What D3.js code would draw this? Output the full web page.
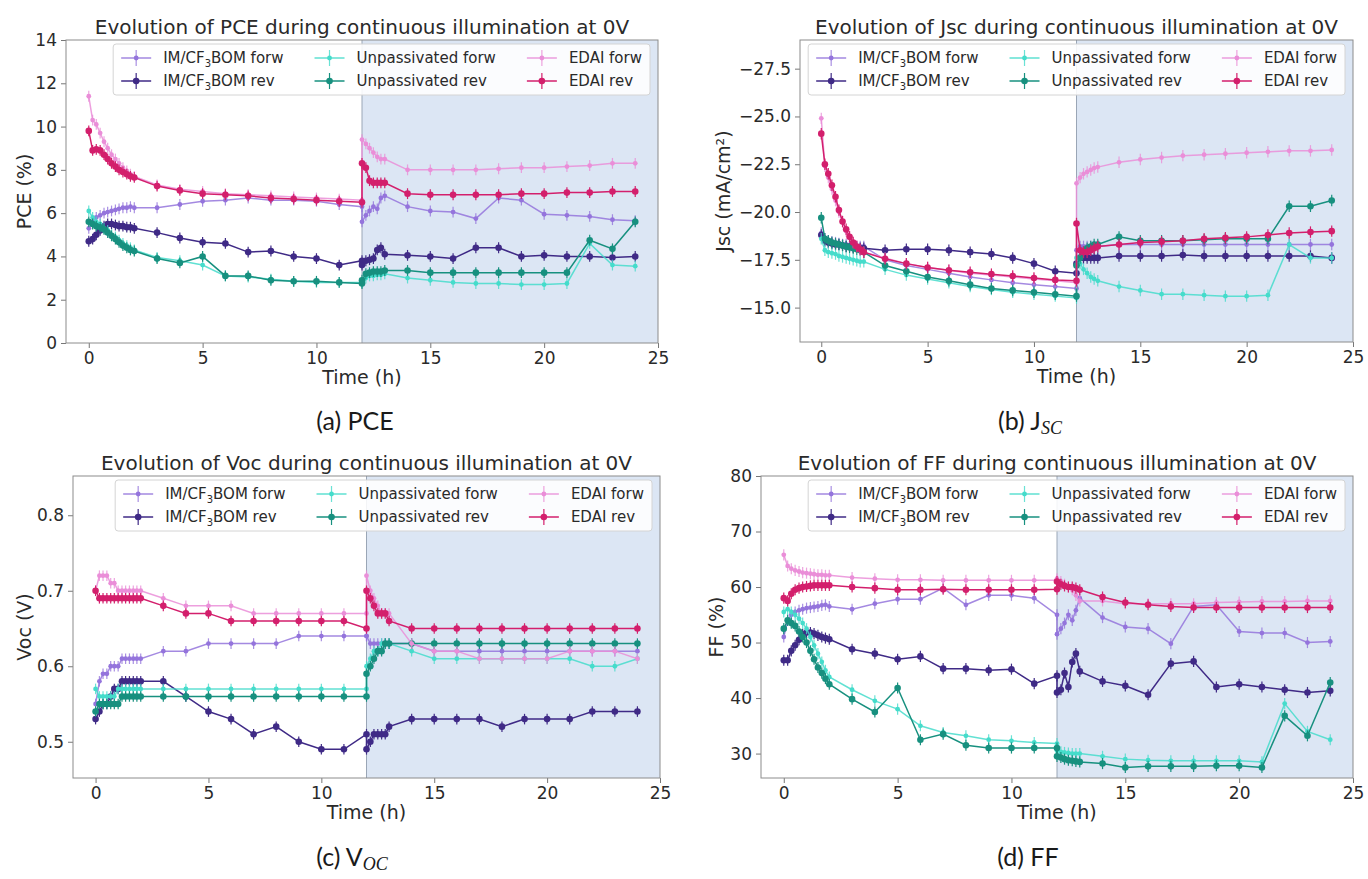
<!DOCTYPE html>
<html>
<head>
<meta charset="utf-8">
<script src="https://cdn.jsdelivr.net/npm/d3@7"></script>
<style>
  body { margin: 0; background: #fff; }
  text { font-family: "DejaVu Sans", sans-serif; }
</style>
</head>
<body>
<script>
// time points (h): dense sampling 0-2 h and 12-13 h, hourly otherwise
var timeH = [0, 0.17, 0.33, 0.5, 0.67, 0.83, 1, 1.17, 1.33, 1.5, 1.67, 1.83, 2,
  3, 4, 5, 6, 7, 8, 9, 10, 11, 12,
  12, 12.17, 12.33, 12.5, 12.67, 12.83, 13,
  14, 15, 16, 17, 18, 19, 20, 21, 22, 23, 24];
var timeTicks = [0, 5, 10, 15, 20, 25];

var seriesNames = ["IM/CF3BOM forw", "IM/CF3BOM rev", "Unpassivated forw", "Unpassivated rev", "EDAI forw", "EDAI rev"];
var seriesColors = ["#9474dc", "#3f2a86", "#45dccb", "#17907f", "#ea8ed8", "#d31f6c"];

// PCE (%)
var pceImForw = [5.3,5.6,5.8,5.9,6.0,6.05,6.1,6.15,6.2,6.25,6.25,6.3,6.25, 6.25,6.4,6.55,6.6,6.7,6.6,6.6,6.55,6.4,6.3, 5.6,5.9,6.1,6.3,6.2,6.7,6.8, 6.3,6.1,6.05,5.75,6.7,6.6,5.95,5.9,5.85,5.7,5.65];
var pceImRev = [4.7,4.8,5.0,5.2,5.4,5.5,5.5,5.45,5.4,5.4,5.35,5.35,5.3, 5.1,4.85,4.65,4.6,4.2,4.25,4.0,3.9,3.6,3.8, 3.6,3.8,3.85,3.9,4.3,4.4,4.1, 4.05,4.0,3.9,4.4,4.4,4.0,4.05,4.0,4.0,3.95,4.0];
var pceUnForw = [6.1,5.8,5.6,5.5,5.3,5.2,5.0,4.9,4.75,4.6,4.5,4.4,4.3, 3.95,3.8,3.6,3.1,3.05,2.95,2.85,2.8,2.8,2.8, 2.8,3.0,3.1,3.1,3.15,3.15,3.2, 3.0,2.9,2.8,2.75,2.75,2.7,2.7,2.75,4.6,3.6,3.55];
var pceUnRev = [5.6,5.5,5.4,5.35,5.25,5.1,4.95,4.8,4.65,4.5,4.4,4.3,4.25, 3.9,3.7,4.0,3.1,3.1,2.9,2.85,2.85,2.8,2.75, 2.9,3.2,3.25,3.3,3.3,3.3,3.35, 3.35,3.25,3.25,3.25,3.25,3.25,3.25,3.25,4.75,4.35,5.6];
var pceEdForw = [11.4,10.3,10.1,9.7,9.3,9.0,8.7,8.5,8.3,8.1,7.95,7.8,7.7, 7.3,7.1,7.0,6.9,6.85,6.8,6.75,6.7,6.65,6.6, 9.4,9.2,9.0,8.8,8.6,8.5,8.5, 8.0,8.0,8.0,8.0,8.05,8.1,8.1,8.15,8.2,8.3,8.3];
var pceEdRev = [9.8,8.9,8.95,8.9,8.7,8.5,8.3,8.15,8.0,7.9,7.8,7.7,7.65, 7.25,7.05,6.9,6.85,6.8,6.7,6.65,6.6,6.55,6.5, 8.3,8.1,7.5,7.4,7.4,7.4,7.4, 6.9,6.85,6.85,6.85,6.85,6.9,6.9,6.95,6.95,7.0,7.0];

// Jsc (mA/cm2)
var jscImForw = [-18.9,-18.6,-18.5,-18.45,-18.4,-18.35,-18.3,-18.3,-18.25,-18.25,-18.2,-18.2,-18.2, -17.5,-17.2,-17.0,-16.8,-16.6,-16.45,-16.3,-16.2,-16.1,-16.0, -18.0,-18.2,-18.2,-18.2,-18.2,-18.2,-18.2, -18.3,-18.3,-18.3,-18.3,-18.3,-18.3,-18.3,-18.3,-18.3,-18.3,-18.3];
var jscImRev = [-18.8,-18.5,-18.4,-18.35,-18.3,-18.3,-18.25,-18.2,-18.2,-18.15,-18.15,-18.1,-18.1, -18.0,-18.05,-18.05,-18.0,-17.9,-17.8,-17.6,-17.3,-16.9,-16.8, -17.3,-17.6,-17.6,-17.6,-17.6,-17.6,-17.6, -17.7,-17.7,-17.7,-17.75,-17.7,-17.7,-17.7,-17.7,-17.7,-17.7,-17.6];
var jscUnForw = [-18.6,-18.0,-17.9,-17.85,-17.8,-17.7,-17.65,-17.6,-17.55,-17.5,-17.45,-17.4,-17.4, -17.0,-16.7,-16.5,-16.3,-16.1,-15.95,-15.8,-15.7,-15.6,-15.5, -17.6,-17.3,-17.0,-16.8,-16.6,-16.5,-16.4, -16.1,-15.9,-15.7,-15.7,-15.65,-15.6,-15.6,-15.65,-18.3,-17.6,-17.6];
var jscUnRev = [-19.7,-18.6,-18.5,-18.4,-18.35,-18.3,-18.25,-18.2,-18.15,-18.1,-18.05,-18.0,-17.9, -17.2,-16.9,-16.6,-16.4,-16.2,-16.0,-15.9,-15.8,-15.7,-15.6, -17.2,-17.6,-17.9,-18.1,-18.2,-18.3,-18.3, -18.7,-18.5,-18.5,-18.5,-18.55,-18.6,-18.6,-18.6,-20.3,-20.3,-20.6];
var jscEdForw = [-24.9,-22.4,-21.8,-21.2,-20.6,-20.0,-19.5,-19.0,-18.7,-18.4,-18.2,-18.0,-17.9, -17.6,-17.3,-17.1,-16.95,-16.8,-16.7,-16.6,-16.5,-16.4,-16.3, -21.5,-21.8,-22.0,-22.1,-22.2,-22.3,-22.35, -22.6,-22.75,-22.85,-22.95,-23.0,-23.05,-23.1,-23.15,-23.2,-23.2,-23.25];
var jscEdRev = [-24.1,-22.5,-22.0,-21.4,-20.8,-20.1,-19.5,-19.1,-18.7,-18.4,-18.2,-18.05,-17.9, -17.55,-17.3,-17.1,-16.95,-16.85,-16.75,-16.65,-16.55,-16.45,-16.4, -19.4,-18.0,-17.9,-17.9,-18.0,-18.1,-18.2, -18.3,-18.4,-18.45,-18.5,-18.6,-18.65,-18.7,-18.8,-18.9,-18.95,-19.0];

// Voc (V)
var vocImForw = [0.55,0.58,0.59,0.59,0.60,0.60,0.60,0.61,0.61,0.61,0.61,0.61,0.61, 0.62,0.62,0.63,0.63,0.63,0.63,0.64,0.64,0.64,0.64, 0.64,0.63,0.63,0.63,0.63,0.63,0.63, 0.63,0.62,0.62,0.62,0.62,0.62,0.62,0.62,0.62,0.62,0.62];
var vocImRev = [0.53,0.54,0.55,0.55,0.56,0.57,0.57,0.58,0.58,0.58,0.58,0.58,0.58, 0.58,0.56,0.54,0.53,0.51,0.52,0.50,0.49,0.49,0.51, 0.49,0.50,0.51,0.51,0.51,0.51,0.52, 0.53,0.53,0.53,0.53,0.52,0.53,0.53,0.53,0.54,0.54,0.54];
var vocUnForw = [0.57,0.56,0.56,0.56,0.56,0.56,0.57,0.57,0.57,0.57,0.57,0.57,0.57, 0.57,0.57,0.57,0.57,0.57,0.57,0.57,0.57,0.57,0.57, 0.60,0.61,0.62,0.62,0.63,0.63,0.63, 0.62,0.61,0.61,0.61,0.61,0.61,0.61,0.61,0.60,0.60,0.61];
var vocUnRev = [0.54,0.55,0.55,0.55,0.55,0.55,0.55,0.56,0.56,0.56,0.56,0.56,0.56, 0.56,0.56,0.56,0.56,0.56,0.56,0.56,0.56,0.56,0.56, 0.59,0.60,0.61,0.62,0.62,0.63,0.63, 0.63,0.63,0.63,0.63,0.63,0.63,0.63,0.63,0.63,0.63,0.63];
var vocEdForw = [0.70,0.72,0.72,0.72,0.71,0.71,0.70,0.70,0.70,0.70,0.70,0.70,0.70, 0.69,0.68,0.68,0.68,0.67,0.67,0.67,0.67,0.67,0.67, 0.72,0.70,0.69,0.68,0.67,0.67,0.67, 0.63,0.62,0.62,0.61,0.61,0.61,0.61,0.62,0.62,0.62,0.61];
var vocEdRev = [0.70,0.69,0.69,0.69,0.69,0.69,0.69,0.69,0.69,0.69,0.69,0.69,0.69, 0.68,0.67,0.67,0.66,0.66,0.66,0.66,0.66,0.66,0.65, 0.70,0.69,0.68,0.67,0.67,0.67,0.66, 0.65,0.65,0.65,0.65,0.65,0.65,0.65,0.65,0.65,0.65,0.65];

// FF (%)
var ffImForw = [51.0,54.0,55.0,55.5,55.8,56.0,56.2,56.3,56.4,56.5,56.7,56.8,56.5, 56.0,57.0,57.8,57.8,59.8,56.8,58.5,58.5,58.0,55.0, 51.5,52.5,53.5,55.0,54.0,55.8,58.0, 54.5,52.8,52.5,49.8,56.5,56.8,52.0,51.7,51.7,50.0,50.2];
var ffImRev = [46.8,46.8,48.5,49.5,50.5,51.5,51.8,51.8,51.6,51.3,51.0,50.8,50.6, 48.8,48.0,47.0,47.5,45.3,45.3,45.0,45.2,42.6,44.0, 41.0,41.5,44.5,42.0,46.5,48.0,44.8, 43.0,42.2,40.6,46.2,46.6,42.0,42.5,42.0,41.5,41.0,41.3];
var ffUnForw = [55.5,56.0,55.5,55.0,54.3,53.5,52.5,51.0,49.5,48.0,46.5,45.0,43.8, 41.5,39.5,38.0,35.0,33.8,33.2,32.5,32.3,32.0,31.8, 30.5,30.3,30.2,30.1,30.0,30.0,30.0, 29.5,29.0,28.8,28.7,28.7,28.7,28.7,28.5,39.0,34.0,32.5];
var ffUnRev = [52.5,54.0,53.5,53.0,52.0,51.0,50.0,48.5,47.0,45.5,44.5,43.5,42.5, 39.8,37.5,41.8,32.5,33.5,31.5,31.0,31.0,31.0,31.0, 29.5,29.3,29.0,28.8,28.7,28.6,28.5, 28.2,27.5,27.7,27.7,27.7,27.8,27.8,27.5,36.8,33.2,42.8];
var ffEdForw = [65.8,63.8,63.3,63.0,62.8,62.6,62.5,62.4,62.3,62.2,62.2,62.1,62.1, 61.7,61.5,61.3,61.3,61.2,61.2,61.2,61.2,61.2,61.2, 61.5,61.0,60.5,60.0,59.5,58.5,57.5, 57.5,57.0,57.0,57.0,57.0,57.2,57.3,57.4,57.4,57.5,57.5];
var ffEdRev = [58.0,57.5,58.8,59.5,59.8,60.0,60.1,60.2,60.3,60.3,60.3,60.3,60.3, 60.0,59.8,59.5,59.5,59.6,59.5,59.5,59.5,59.5,59.6, 61.0,60.5,60.2,60.0,60.0,59.8,59.5, 58.2,57.2,56.8,56.5,56.3,56.3,56.3,56.3,56.3,56.3,56.3];

// half height of the error bars, one per panel
var errHalf = [0.25, 0.3, 0.007, 1.0];

var panels = [
  {name: "PCE", series: [pceImForw, pceImRev, pceUnForw, pceUnRev, pceEdForw, pceEdRev],
   yDomain: [0, 14], yTicks: [0, 2, 4, 6, 8, 10, 12, 14], fmt: "d", ylabel: "PCE (%)",
   left: 66, right: 658, top: 40, bottom: 343, ylabelX: 24, err: errHalf[0]},
  {name: "Jsc", series: [jscImForw, jscImRev, jscUnForw, jscUnRev, jscEdForw, jscEdRev],
   yDomain: [-13.2, -29], yTicks: [-15, -17.5, -20, -22.5, -25, -27.5], fmt: ".1f", ylabel: "Jsc (mA/cm²)",
   left: 800, right: 1353, top: 40, bottom: 342, ylabelX: 723, err: errHalf[1]},
  {name: "Voc", series: [vocImForw, vocImRev, vocUnForw, vocUnRev, vocEdForw, vocEdRev],
   yDomain: [0.452, 0.852], yTicks: [0.5, 0.6, 0.7, 0.8], fmt: ".1f", ylabel: "Voc (V)",
   left: 73, right: 660, top: 476, bottom: 778, ylabelX: 24, err: errHalf[2]},
  {name: "FF", series: [ffImForw, ffImRev, ffUnForw, ffUnRev, ffEdForw, ffEdRev],
   yDomain: [25.6, 80], yTicks: [30, 40, 50, 60, 70, 80], fmt: "d", ylabel: "FF (%)",
   left: 761, right: 1353, top: 476, bottom: 778, ylabelX: 716, err: errHalf[3]}
];

var svg = d3.select("body").append("svg").attr("width", 1368).attr("height", 879);

// legend label with the subscript 3 in CF3
var writeLabel = function (txt, name){
  var m = name.match(/^(IM\/CF)3(.*)$/);
  if (m) {
    txt.append("tspan").text(m[1]);
    txt.append("tspan").attr("font-size", "10px").attr("dy", 4).text("3");
    txt.append("tspan").attr("dy", -4).text(m[2]);
  } else {
    txt.text(name);
  }
};

var drawPanel = function (p){
  var x = d3.scaleLinear().domain([-1, 25]).range([p.left, p.right]);
  var y = d3.scaleLinear().domain(p.yDomain).range([p.bottom, p.top]);
  var g = svg.append("g");

  // light shading for the second 12 h
  g.append("rect")
    .attr("x", x(12)).attr("y", p.top)
    .attr("width", x(25) - x(12)).attr("height", p.bottom - p.top)
    .attr("fill", "#dce6f4");
  g.append("line")
    .attr("x1", x(12)).attr("x2", x(12)).attr("y1", p.top).attr("y2", p.bottom)
    .attr("stroke", "#9aa6b6").attr("stroke-width", 1);

  var line = d3.line().x(function (d){ return x(d[0]); }).y(function (d){ return y(d[1]); });

  p.series.forEach(function (vals, i){
    var pts = vals.map(function (v, k){ return [timeH[k], v]; });
    var forw = i % 2 === 0;
    var col = seriesColors[i];
    g.append("path").datum(pts)
      .attr("d", line).attr("fill", "none")
      .attr("stroke", col).attr("stroke-width", 1.5)
      .attr("opacity", forw ? 0.85 : 1);
    g.selectAll(null).data(pts).enter().append("line")
      .attr("x1", function (d){ return x(d[0]); }).attr("x2", function (d){ return x(d[0]); })
      .attr("y1", function (d){ return y(d[1] - p.err); }).attr("y2", function (d){ return y(d[1] + p.err); })
      .attr("stroke", col).attr("stroke-width", 1.2).attr("opacity", forw ? 0.8 : 1);
    g.selectAll(null).data(pts).enter().append("circle")
      .attr("cx", function (d){ return x(d[0]); }).attr("cy", function (d){ return y(d[1]); })
      .attr("r", forw ? 2.4 : 3.3).attr("fill", col);
  });

  // axes
  var ax = g.append("g").attr("transform", "translate(0," + p.bottom + ")")
    .call(d3.axisBottom(x).tickValues(timeTicks).tickSize(5).tickPadding(4).tickFormat(d3.format("d")));
  var ay = g.append("g").attr("transform", "translate(" + p.left + ",0)")
    .call(d3.axisLeft(y).tickValues(p.yTicks).tickSize(5).tickPadding(4).tickFormat(d3.format(p.fmt)));
  [ax, ay].forEach(function (a){
    a.select(".domain").remove();
    a.selectAll(".tick line").attr("stroke", "#777");
    a.selectAll(".tick text").attr("fill", "#2a2a2a").style("font-size", "17px").style("font-family", "DejaVu Sans");
  });

  g.append("rect")
    .attr("x", p.left).attr("y", p.top)
    .attr("width", p.right - p.left).attr("height", p.bottom - p.top)
    .attr("fill", "none").attr("stroke", "#8c8c8c").attr("stroke-width", 1);

  // title and axis labels
  g.append("text")
    .attr("x", (p.left + p.right) / 2).attr("y", p.top - 6)
    .attr("text-anchor", "middle").attr("fill", "#2a2a2a").style("font-size", "20px")
    .text("Evolution of " + p.name + " during continuous illumination at 0V");
  g.append("text")
    .attr("x", (p.left + p.right) / 2).attr("y", p.bottom + 41)
    .attr("text-anchor", "middle").attr("fill", "#2a2a2a").style("font-size", "19px")
    .text("Time (h)");
  g.append("text")
    .attr("transform", "translate(" + p.ylabelX + "," + ((p.top + p.bottom) / 2) + ") rotate(-90)")
    .attr("text-anchor", "middle").attr("dy", "0.35em").attr("fill", "#2a2a2a").style("font-size", "19px")
    .text(p.ylabel);

  drawLegend(g, p);
};

var drawLegend = function (g, p){
  var fs = 15, handleLen = 30, gap = 12, colSp = 31, pad = 8;
  var cols = [[0, 1], [2, 3], [4, 5]];
  var lg = g.append("g");
  var box = lg.append("rect");
  var widths = cols.map(function (c){
    return d3.max(c, function (i){
      var t = svg.append("text").style("font-size", fs + "px");
      writeLabel(t, seriesNames[i]);
      var w = t.node().getComputedTextLength();
      t.remove();
      return w;
    });
  });
  var totalW = pad * 2 + d3.sum(widths) + cols.length * (handleLen + gap) + (cols.length - 1) * colSp;
  var right = p.right - 8, left = right - totalW;
  var top = p.top + 4, rowY = [p.top + 18, p.top + 41];
  box.attr("x", left).attr("y", top).attr("width", totalW).attr("height", 51)
    .attr("rx", 3).attr("fill", "#fff").attr("fill-opacity", 0.88)
    .attr("stroke", "#d4d4d4");
  var cx = left + pad;
  cols.forEach(function (c, ci){
    c.forEach(function (i, ri){
      var yy = rowY[ri], col = seriesColors[i], forw = i % 2 === 0;
      lg.append("line").attr("x1", cx).attr("x2", cx + handleLen).attr("y1", yy).attr("y2", yy)
        .attr("stroke", col).attr("stroke-width", 1.5).attr("opacity", forw ? 0.85 : 1);
      lg.append("line").attr("x1", cx + handleLen / 2).attr("x2", cx + handleLen / 2)
        .attr("y1", yy - 8).attr("y2", yy + 8)
        .attr("stroke", col).attr("stroke-width", 1.2).attr("opacity", forw ? 0.8 : 1);
      lg.append("circle").attr("cx", cx + handleLen / 2).attr("cy", yy)
        .attr("r", forw ? 2.4 : 3.3).attr("fill", col);
      var t = lg.append("text").attr("x", cx + handleLen + gap).attr("y", yy).attr("dy", "0.36em")
        .attr("fill", "#2a2a2a").style("font-size", fs + "px");
      writeLabel(t, seriesNames[i]);
    });
    cx += handleLen + gap + widths[ci] + colSp;
  });
};

panels.forEach(drawPanel);

// sub-figure captions
var captions = [
  {x: 355, y: 430, main: "(a) PCE", sub: ""},
  {x: 1030, y: 430, main: "(b) J", sub: "SC"},
  {x: 352, y: 866, main: "(c) V", sub: "OC"},
  {x: 1028, y: 866, main: "(d) FF", sub: ""}
];
captions.forEach(function (c){
  var t = svg.append("text").attr("x", c.x).attr("y", c.y).attr("text-anchor", "middle")
    .attr("fill", "#1a1a1a").style("font-family", "Lato, 'Open Sans', sans-serif").style("font-size", "25px")
    .text(c.main);
  if (c.sub) {
    t.append("tspan").attr("dy", 4)
      .style("font-family", "'Liberation Serif', serif").style("font-style", "italic").style("font-size", "18px")
      .text(c.sub);
  }
});
</script>
</body>
</html>
